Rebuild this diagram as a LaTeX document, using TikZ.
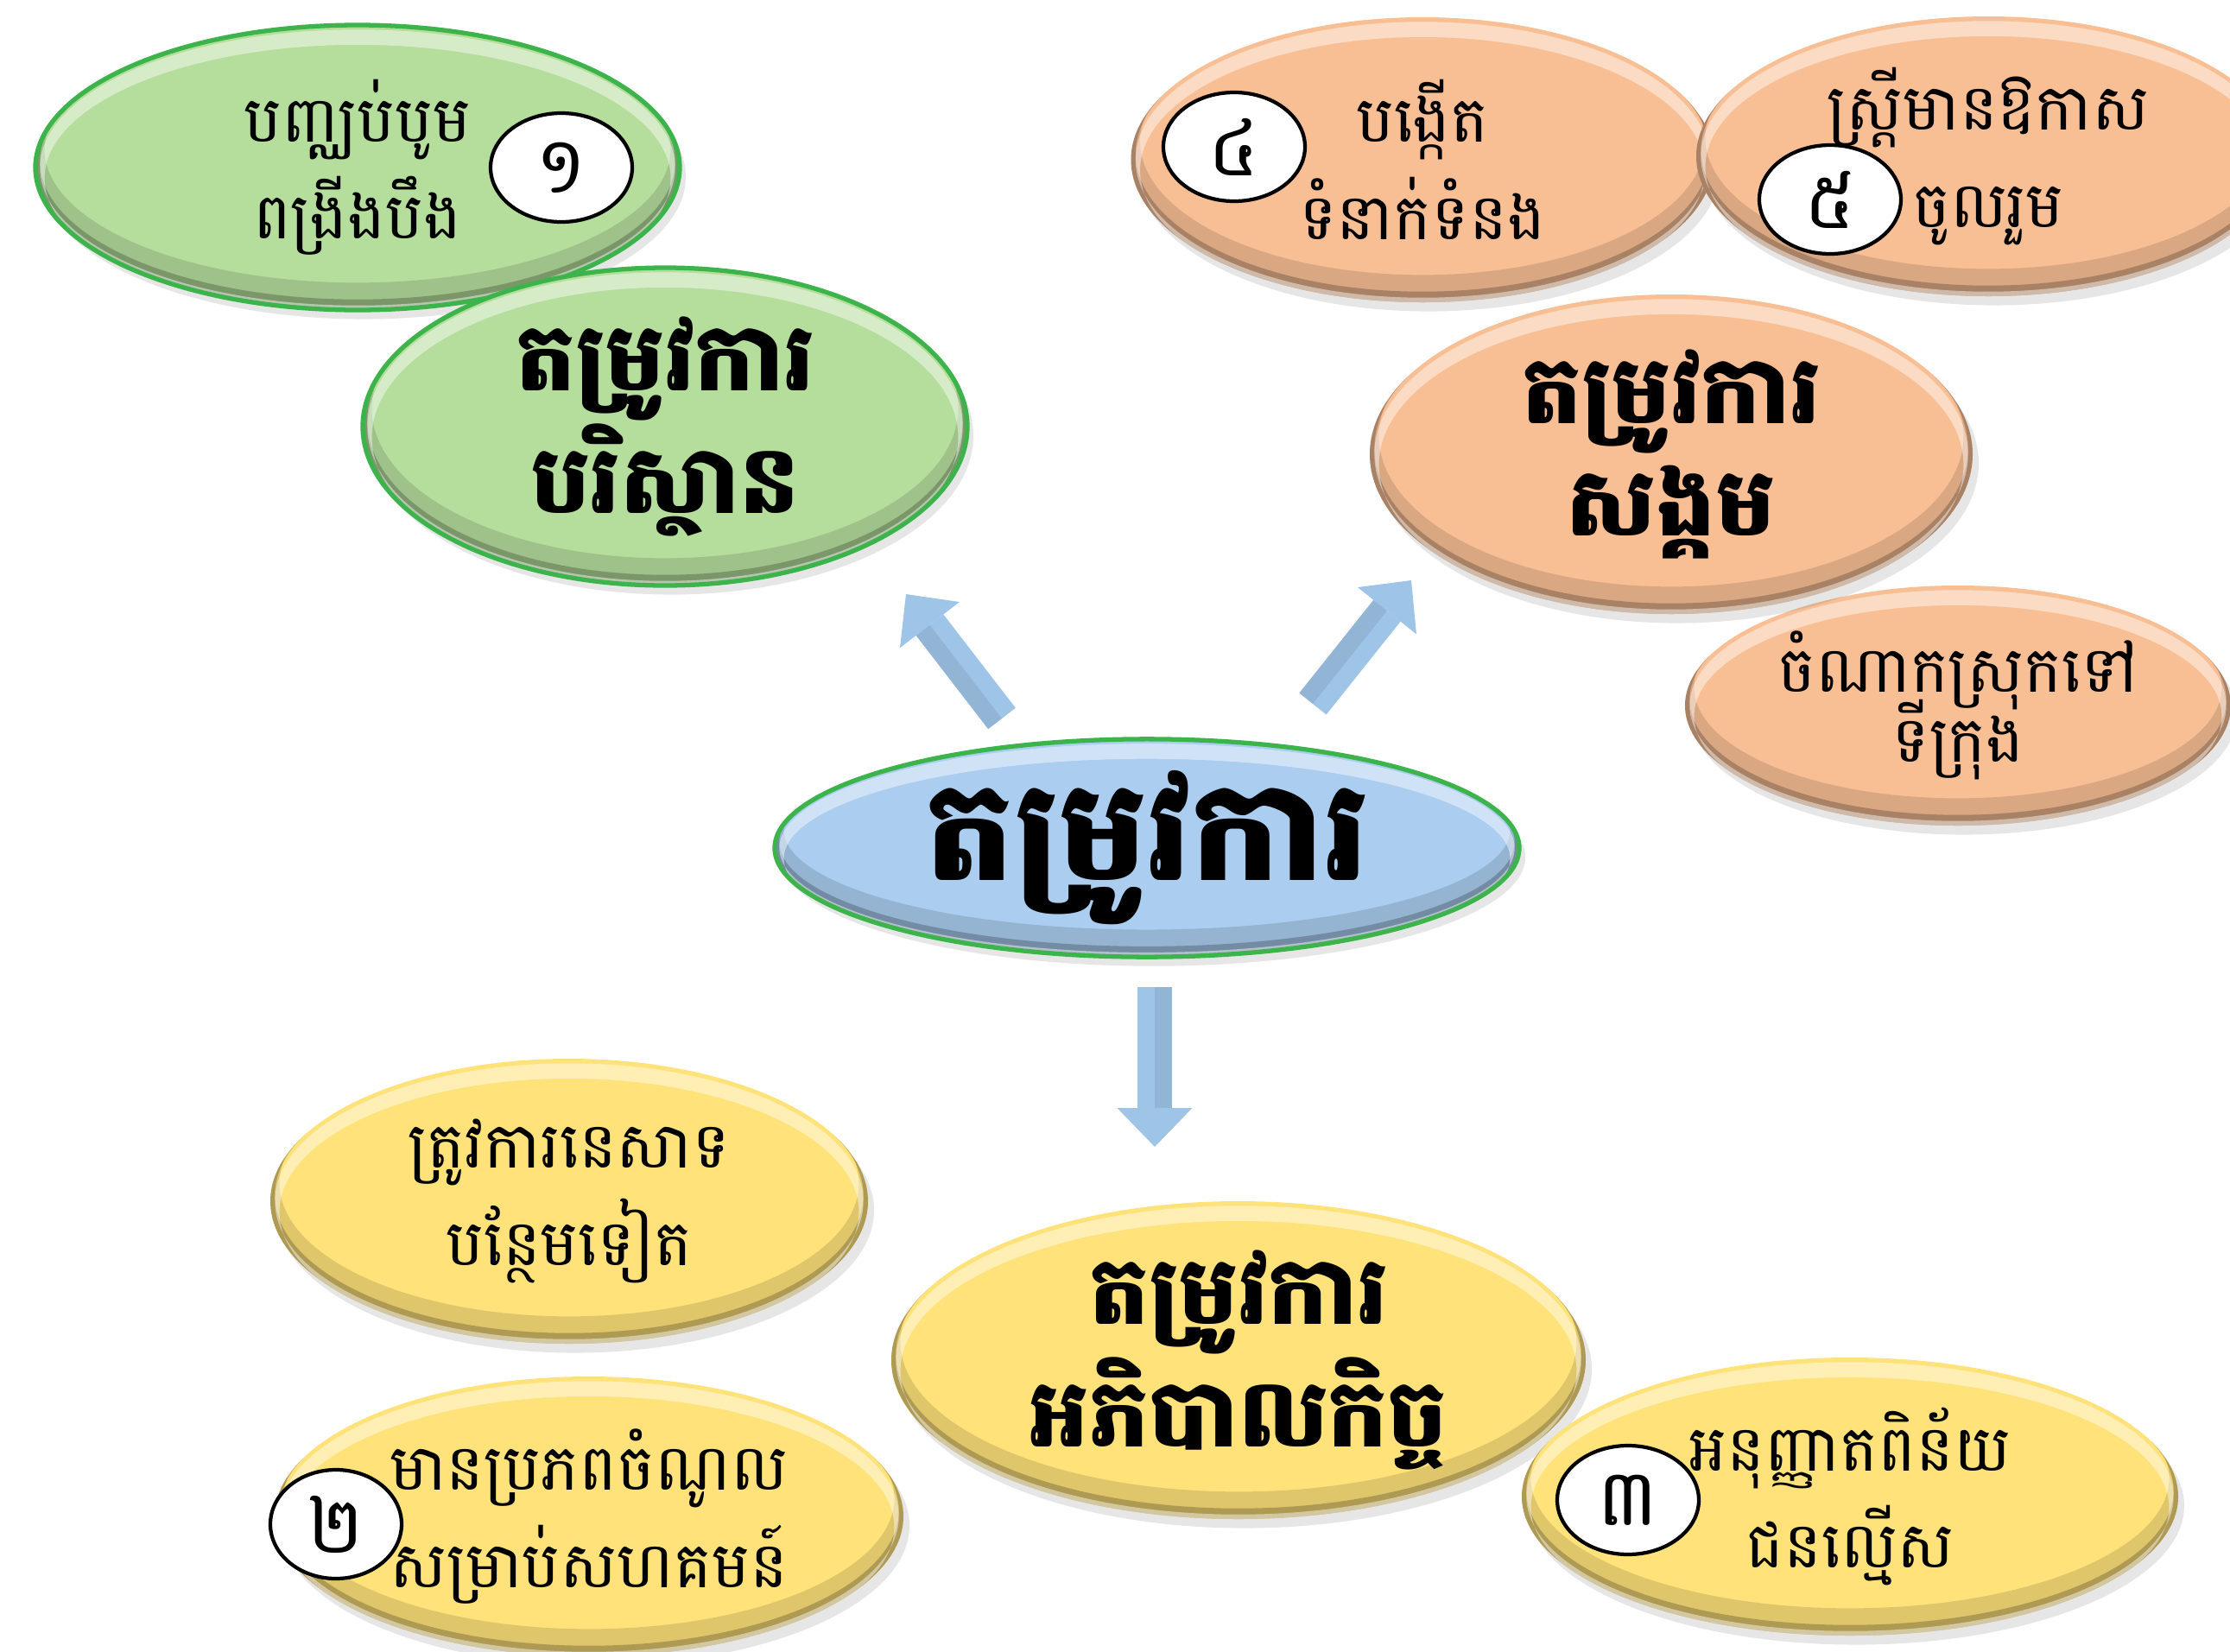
\documentclass[tikz,border=0pt]{standalone}
\usepackage{fontspec}
\newfontfamily\khmer[Script=Khmer]{Battambang}
\usetikzlibrary{shapes.geometric, arrows.meta, shadows, calc}

\definecolor{leafgreen}{HTML}{B5DD9C}
\definecolor{rimgreen}{HTML}{3CB44B}
\definecolor{peach}{HTML}{F8BF95}
\definecolor{gold}{HTML}{FFE27A}
\definecolor{sky}{HTML}{AACDF0}
\definecolor{arrowblue}{HTML}{9EC4E8}

\tikzset{
  bevel/.style={path picture={
    \fill[black, opacity=.12, even odd rule] let \p1=($(path picture bounding box.north east)-(path picture bounding box.center)$) in
      (path picture bounding box.center) ellipse [x radius=\x1+4pt, y radius=\y1+4pt]
      ([yshift=6pt]path picture bounding box.center) ellipse [x radius=\x1-3pt, y radius=\y1-3pt];
    \fill[black, opacity=.22, even odd rule] let \p1=($(path picture bounding box.north east)-(path picture bounding box.center)$) in
      (path picture bounding box.center) ellipse [x radius=\x1+4pt, y radius=\y1+4pt]
      ([yshift=2pt]path picture bounding box.center) ellipse [x radius=\x1-1.5pt, y radius=\y1-1.5pt];
    \fill[white, opacity=.45, even odd rule] let \p1=($(path picture bounding box.north east)-(path picture bounding box.center)$) in
      (path picture bounding box.center) ellipse [x radius=\x1-1.5pt, y radius=\y1-1.5pt]
      ([yshift=-3.5pt]path picture bounding box.center) ellipse [x radius=\x1-3pt, y radius=\y1-3pt];
  }},
}

\begin{document}
\begin{tikzpicture}[x=1cm, y=-1cm,
  bubble/.style={ellipse, inner sep=0pt, align=center, bevel,
    drop shadow={shadow xshift=2pt, shadow yshift=-3pt, opacity=.2},
    font=\khmer\fontsize{21}{32}\selectfont},
  head/.style={bubble, font=\khmer\bfseries\fontsize{31}{37}\selectfont},
  badge/.style={ellipse, draw=black, line width=1.2pt, fill=white, inner sep=0pt,
    minimum width=1.64cm, minimum height=1.26cm, font=\khmer\fontsize{26}{30}\selectfont},
  blockarrow/.style={draw=arrowblue, line width=0.4cm,
    -{Triangle[width=0.87cm, length=0.45cm, line width=0pt, fill=arrowblue]}}]
\useasboundingbox (0,0) rectangle (25.82,19.13);
\clip (0,0) rectangle (25.82,19.13);

% environment
\node[bubble, fill=leafgreen, draw=rimgreen, line width=1.5pt, minimum width=7.46cm, minimum height=3.30cm]
  (envA) at (4.14,1.94) {បញ្ឈប់បូម\\ពង្រីងបឹង};
\node[badge] (n1) at (6.50,1.94) {១};
\node[head, fill=leafgreen, draw=rimgreen, line width=1.5pt, minimum width=7.00cm, minimum height=3.68cm]
  (env) at (7.70,4.94) {តម្រូវការ\\បរិស្ថាន};

% society
\node[bubble, fill=peach, minimum width=6.75cm, minimum height=3.30cm]
  (socA) at (16.47,1.85) {បង្កើត\\ទំនាក់ទំនង};
\node[badge] (n4) at (14.29,1.70) {៤};
\node[bubble, fill=peach, minimum width=6.76cm, minimum height=3.24cm]
  (socB) at (23.02,1.81) {ស្ត្រីមានឱកាស\\ចូលរួម};
\node[badge] (n5) at (21.19,2.31) {៥};
\node[bubble, fill=peach, minimum width=6.32cm, minimum height=2.78cm]
  (socC) at (22.67,8.17) {ចំណាកស្រុកទៅ\\[-9pt]ទីក្រុង};
\node[head, fill=peach, minimum width=6.98cm, minimum height=3.70cm]
  (soc) at (19.35,5.26) {តម្រូវការ\\សង្គម};

% centre
\node[head, fill=sky, draw=rimgreen, line width=1.5pt, minimum width=8.62cm, minimum height=2.36cm,
  font=\khmer\bfseries\fontsize{46}{50}\selectfont] (hub) at (13.28,9.82) {តម្រូវការ};

% governance
\node[bubble, fill=gold, minimum width=6.92cm, minimum height=3.30cm]
  (govA) at (6.59,13.91) {ត្រូវការនេសាទ\\បន្ថែមទៀត};
\node[head, fill=gold, minimum width=8.04cm, minimum height=3.68cm]
  (gov) at (14.34,15.75) {តម្រូវការ\\អភិបាលកិច្ច};
\node[bubble, fill=gold, minimum width=7.28cm, minimum height=3.24cm]
  (govB) at (6.82,17.56) {មានប្រភពចំណូល\\សម្រាប់សហគមន៍};
\node[badge, minimum width=1.52cm] (n2) at (3.89,17.65) {២};
\node[bubble, fill=gold, minimum width=7.60cm, minimum height=3.22cm]
  (govC) at (21.42,17.33) {អនុញ្ញាតពិន័យ\\ជនល្មើស};
\node[badge] (n3) at (18.85,17.37) {៣};

% arrows
\coordinate (tailL) at (11.60,8.32);
\coordinate (tipL) at (10.49,6.88);
\coordinate (tailR) at (15.20,8.15);
\coordinate (tipR) at (16.34,6.72);
\coordinate (tailD) at (13.37,11.43);
\coordinate (tipD) at (13.37,13.28);
\foreach \a/\b in {tailL/tipL, tailR/tipR, tailD/tipD} {
  \draw[blockarrow] (\a) -- (\b);
  \draw[arrowblue!75!black, opacity=.3, line width=0.2cm, shorten >=0.45cm]
    ($(\a)!0.1cm!90:(\b)$) -- ($(\b)!0.1cm!-90:(\a)$);
}
\end{tikzpicture}
\end{document}
